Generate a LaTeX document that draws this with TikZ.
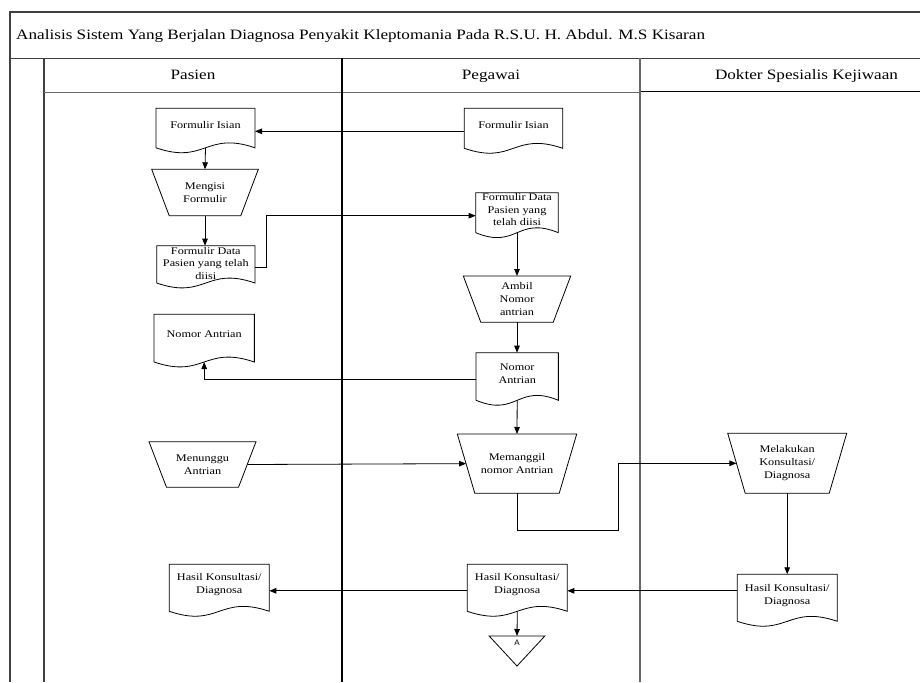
\documentclass[tikz,border=0pt]{standalone}
\usepackage{fontspec}
\setmainfont{Liberation Serif}[FakeStretch=1.2]
\newfontfamily\sfA{Liberation Sans}
\usetikzlibrary{calc,arrows.meta}
\newcommand\nfont{\fontsize{10.2}{12.8}\selectfont}
\newcommand\hfont{\fontsize{14.3}{16}\selectfont}
\tikzset{
  frameline/.style={line width=1.3pt,draw=black!75},
  shapeline/.style={line width=0.8pt,draw=black},
  conn/.style={line width=0.8pt,draw=black},
  arr/.style={conn,-{Triangle[length=7pt,width=5.5pt]}},
  box/.style={rectangle,draw=none,inner sep=0pt,outer sep=0pt,font=\nfont,align=center},
  txt/.style={font=\nfont,align=center,inner sep=0pt},
  hdr/.style={font=\hfont,inner sep=0pt}
}
\newcommand\docshape[1]{%
  \draw[shapeline] (#1.north west) -- (#1.north east) -- ([yshift=6pt]#1.south east)
    .. controls ([yshift=23pt]#1.south) and ([yshift=-11pt]#1.south) .. ([yshift=6pt]#1.south west) -- cycle;}
\newcommand\trapshape[1]{%
  \draw[shapeline] (#1.north west) -- (#1.north east) -- ([xshift=-17.5pt]#1.south east) -- ([xshift=17.5pt]#1.south west) -- cycle;
  \coordinate (#1-w) at ($(#1.north west)!0.5!([xshift=17.5pt]#1.south west)$);
  \coordinate (#1-e) at ($(#1.north east)!0.5!([xshift=-17.5pt]#1.south east)$);}
\begin{document}
\begin{tikzpicture}[x=1pt,y=-1pt]
\useasboundingbox (0,0) rectangle (920,682);
\fill[white] (0,0) rectangle (920,682);
% frame
\draw[frameline] (920,12) -- (10,12) -- (10,682);
\draw[frameline] (10,58.3) -- (920,58.3);
\draw[frameline] (44,58.3) -- (44,682);
\draw[frameline,draw=black!60] (44,92.3) -- (640,92.3);
\draw[line width=1.5pt,draw=black] (640,91.5) -- (920,91.5);
\draw[line width=1.6pt,draw=black] (342,58.3) -- (342,682);
\draw[line width=1.6pt,draw=black!60] (640,58.3) -- (640,682);
% title and headers
\node[hdr,anchor=base west] (title) at (16,39.5) {Analisis Sistem Yang Berjalan Diagnosa Penyakit Kleptomania Pada R.S.U. H. Abdul. M.S Kisaran};
\node[hdr,anchor=base] (h1) at (193,80) {Pasien};
\node[hdr,anchor=base] (h2) at (491,80) {Pegawai};
\node[hdr,anchor=base] (h3) at (806.5,80) {Dokter Spesialis Kejiwaan};
% shapes
\node[box,minimum width=99pt,minimum height=45.5pt,label={[txt,yshift=6pt]center:{Formulir Isian}}] (D1) at (205.5,131.05) {};
\node[box,minimum width=98.4pt,minimum height=46pt,label={[txt,yshift=6pt]center:{Formulir Isian}}] (D5) at (513.5,131.3) {};
\node[box,minimum width=106.6pt,minimum height=46.4pt] (T1) at (205,192.5) {Mengisi\\Formulir};
\node[box,minimum width=98.3pt,minimum height=43.3pt,label={[txt,yshift=4pt]center:{Formulir Data\\Pasien yang telah\\diisi}}] (D2) at (205.8,267.35) {};
\node[box,minimum width=82.6pt,minimum height=46pt,label={[txt,yshift=6pt]center:{Formulir Data\\Pasien yang\\telah diisi}}] (D6) at (517,215.7) {};
\node[box,minimum width=107.4pt,minimum height=46.3pt] (T2) at (517,299.15) {Ambil\\Nomor\\antrian};
\node[box,minimum width=100.3pt,minimum height=53.7pt,label={[txt,yshift=7pt]center:{Nomor Antrian}}] (D3) at (204.2,341.15) {};
\node[box,minimum width=82.3pt,minimum height=53.6pt,label={[txt,yshift=5.5pt]center:{Nomor\\Antrian}}] (D7) at (517.2,379.5) {};
\node[box,minimum width=107pt,minimum height=45.6pt] (T3) at (202.5,464.5) {Menunggu\\Antrian};
\node[box,minimum width=119.4pt,minimum height=59.3pt] (T4) at (517,463.65) {Memanggil\\nomor Antrian};
\node[box,minimum width=119pt,minimum height=60pt] (T5) at (787.2,463.3) {Melakukan\\Konsultasi/\\Diagnosa};
\node[box,minimum width=100pt,minimum height=53pt,label={[txt,yshift=5.5pt]center:{Hasil Konsultasi/\\Diagnosa}}] (D9) at (787.3,600.8) {};
\node[box,minimum width=100pt,minimum height=53pt,label={[txt,yshift=6pt]center:{Hasil Konsultasi/\\Diagnosa}}] (D8) at (517.3,590.8) {};
\node[box,minimum width=100pt,minimum height=53pt,label={[txt,yshift=6pt]center:{Hasil Konsultasi/\\Diagnosa}}] (D4) at (219.3,590.8) {};
\node[box,minimum width=55.7pt,minimum height=30pt,label={[inner sep=0pt,font=\sfA\fontsize{8}{9}\selectfont,yshift=8pt]center:A}] (TA) at (517,651) {};
\docshape{D1}\docshape{D5}\docshape{D2}\docshape{D6}\docshape{D3}\docshape{D7}
\docshape{D9}\docshape{D8}\docshape{D4}
\trapshape{T1}\trapshape{T2}\trapshape{T3}\trapshape{T4}\trapshape{T5}
\draw[shapeline] (TA.north west) -- (TA.north east) -- (TA.south) -- cycle;
% connectors
\coordinate (b1) at (618.3,530);
\draw[arr] (D5.west) -- (D5.west -| D1.east);
\draw[arr] ([yshift=6pt]D1.south) -- (T1.north);
\draw[arr] (T1.south) -- (T1.south |- D2.north);
\draw[arr] (D2.east) -- ++(11.7,0) |- (D6.west);
\draw[arr] ([yshift=6pt]D6.south) -- (T2.north);
\draw[arr] (T2.south) -- (T2.south |- D7.north);
\draw[arr] (D7.west) -| ([yshift=6pt]D3.south);
\draw[arr] ([yshift=6pt]D7.south) -- (T4.north);
\draw[arr] (T3-e) -- (T4-w);
\draw[arr] (T4.south) |- (b1) |- (T5-w);
\draw[arr] (T5.south) -- (T5.south |- D9.north);
\draw[arr] (D9.west |- D8.east) -- (D8.east);
\draw[arr] (D8.west) -- (D8.west -| D4.east);
\draw[arr] ([yshift=6pt]D8.south) -- (TA.north);
\end{tikzpicture}
\end{document}
